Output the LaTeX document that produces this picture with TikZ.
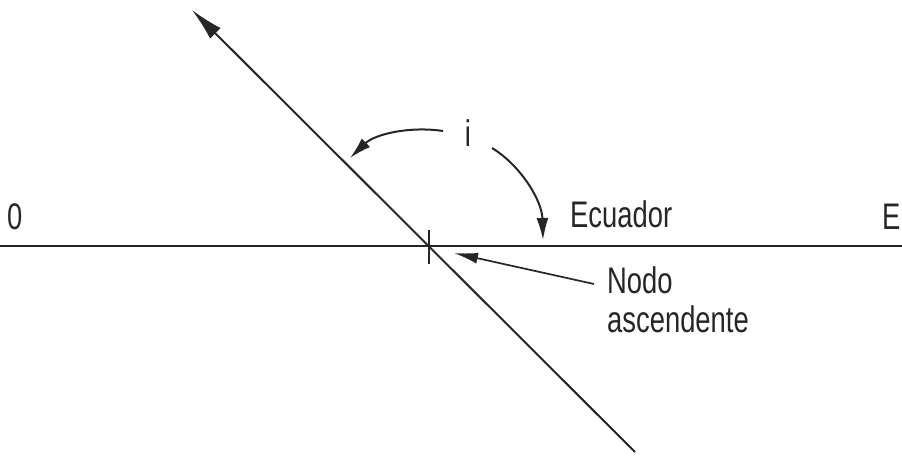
\documentclass[tikz,border=0pt]{standalone}
\usepackage{fontspec}
\setmainfont{Liberation Sans}[FakeStretch=0.74]
\usetikzlibrary{arrows.meta}
\begin{document}
\begin{tikzpicture}[x=1pt,y=-1pt,
  ln/.style={line width=2pt,draw=black!85},
  lbl/.style={font=\fontsize{37}{40}\selectfont,text=black!85,inner sep=0pt,anchor=base west},
  bigtip/.style={-{Latex[length=33pt,width=15pt]}},
  smalltip/.style={-{Latex[length=22pt,width=12pt]}}]
\useasboundingbox (0,0) rectangle (902,456);
% equator
\coordinate (W) at (0,246);
\coordinate (Ea) at (902,246);
\draw[ln] (W) -- (Ea);
% orbit line
\coordinate (top) at (192,10);
\coordinate (bot) at (635,452);
\draw[ln,bigtip] (bot) -- (top);
% node tick
\coordinate (nodeT) at (429,230);
\coordinate (nodeB) at (429,264);
\draw[ln] (nodeT) -- (nodeB);
% labels
\node[lbl] (o) at (7,229) {0};
\node[lbl] (e) at (882,229) {E};
\node[lbl] (ecu) at (570,227) {Ecuador};
\node[lbl] (nodo) at (607,293) {Nodo};
\node[lbl] (asc) at (607,332) {ascendente};
\node[font=\fontsize{37}{40}\selectfont,text=black!85,inner sep=0pt,anchor=base] (i) at (468,146) {i};
% angle arrows
\coordinate (a1s) at (443,131);
\coordinate (a1e) at (350,158);
\draw[ln,smalltip] (a1s) .. controls (410,126) and (375,134) .. (a1e);
\coordinate (a2s) at (492,148);
\coordinate (a2e) at (543,240);
\draw[ln,smalltip] (a2s) .. controls (520,165) and (542,200) .. (a2e);
% pointer
\coordinate (ps) at (594,284);
\coordinate (pe) at (454,253);
\draw[line width=1.7pt,draw=black!85,-{Latex[length=24pt,width=11pt]}] (ps) -- (pe);
\end{tikzpicture}
\end{document}
